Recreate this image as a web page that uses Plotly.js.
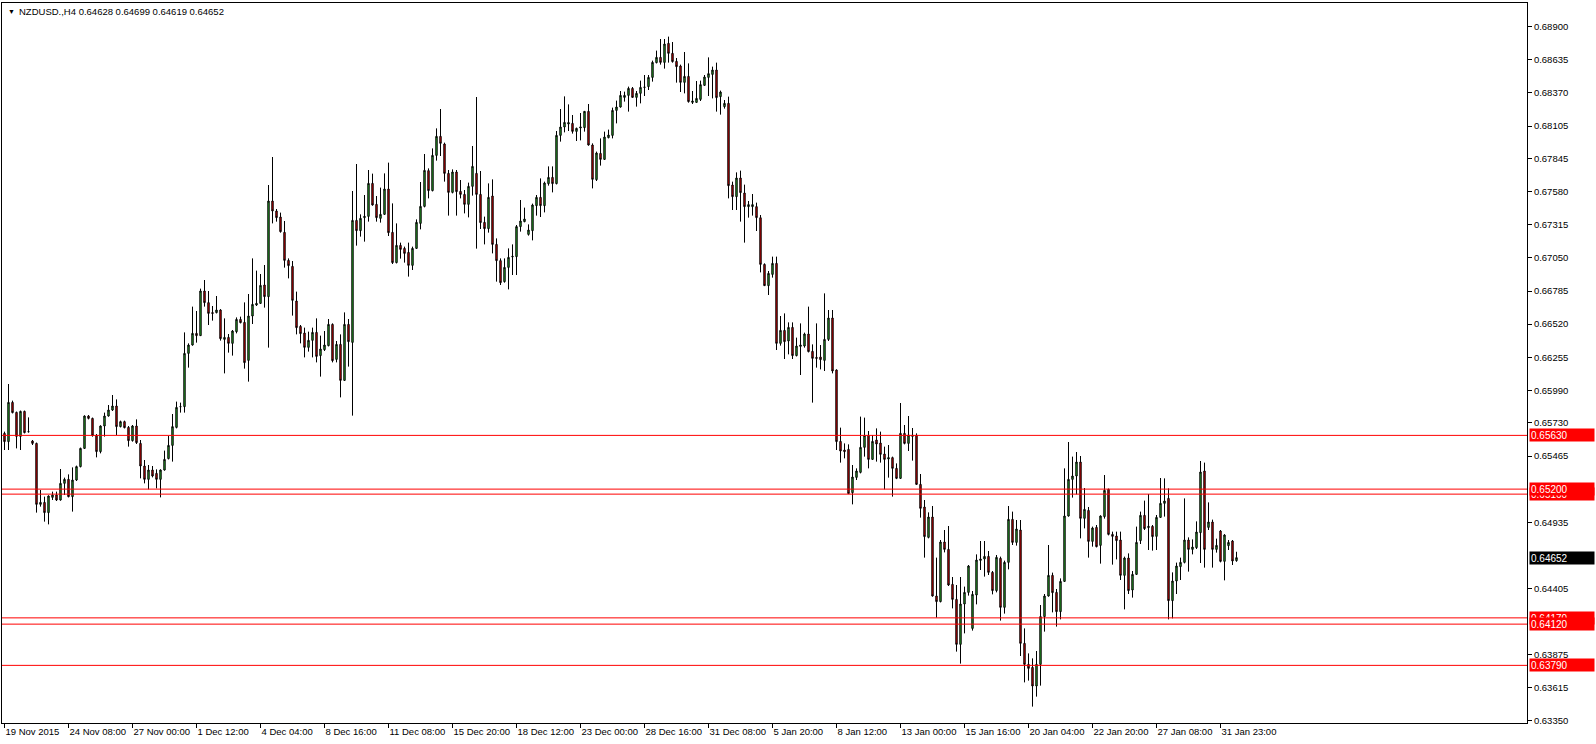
<!DOCTYPE html>
<html>
<head>
<meta charset="utf-8">
<script src="https://cdn.plot.ly/plotly-3.0.1.min.js"></script>
<style>
html,body{margin:0;padding:0;background:#fff;}
#chart{width:1596px;height:744px;}
</style>
</head>
<body>
<div id="chart"></div>
<script>
// ---- data (NZDUSD, H4) ----
const symbolTitle = "NZDUSD.,H4 0.64628 0.64699 0.64619 0.64652";

const openP = [
0.65646,0.65580,0.65894,0.65814,0.65622,0.65822,0.65660,0.65585,0.65566,0.65078,
0.65094,0.65012,0.65134,0.65153,0.65113,0.65246,0.65278,0.65140,0.65273,0.65380,
0.65526,0.65785,0.65766,0.65628,0.65500,0.65705,0.65785,0.65833,0.65865,0.65700,
0.65740,0.65694,0.65588,0.65705,
0.65566,0.65385,0.65278,0.65353,0.65326,0.65278,0.65353,0.65444,0.65550,0.65694,
0.65860,0.65860,0.66286,0.66353,0.66446,0.66428,0.66785,0.66692,0.66612,0.66612,
0.66633,0.66398,0.66414,0.66366,0.66460,0.66558,0.66534,0.66230,0.66585,0.66673,
0.66686,
0.66833,0.66740,0.67505,0.67425,0.67377,0.67254,0.67030,0.66982,0.66705,0.66502,
0.66449,0.66334,0.66390,0.66454,0.66268,0.66316,0.66348,0.66518,0.66238,0.66358,
0.66070,0.66518,0.66374,0.67350,0.67268,0.67372,0.67382,0.67646,0.67478,0.67366,
0.67398,
0.67601,0.67254,0.67012,0.67150,0.67126,0.67094,0.66990,0.67126,0.67326,0.67462,
0.67748,0.67588,0.67870,0.68022,0.67961,0.67726,0.67574,0.67737,0.67582,0.67558,
0.67478,0.67622,0.67726,0.67558,0.67334,0.67284,0.67545,0.67158,0.67028,0.66860,
0.66974,
0.67058,0.67060,0.67300,0.67340,0.67238,0.67268,0.67468,0.67534,0.67468,0.67644,
0.67694,0.67644,0.68030,0.68097,0.68121,0.68126,0.68062,0.68089,0.68092,0.68222,
0.67953,0.67676,0.67886,0.67838,0.68012,0.68030,0.68230,0.68257,0.68334,0.68350,
0.68406,
0.68334,0.68366,0.68414,0.68420,0.68494,0.68612,0.68654,0.68614,0.68766,0.68686,
0.68622,0.68585,0.68454,0.68502,0.68294,0.68294,0.68318,0.68430,0.68494,0.68518,
0.68553,0.68340,0.68260,0.68286,0.67633,0.67540,0.67689,0.67569,0.67460,0.67460,
0.67460,
0.67371,0.66998,0.66828,0.66918,0.67006,0.66366,0.66470,0.66385,0.66494,0.66268,
0.66342,0.66345,0.66441,0.66302,0.66254,0.66257,0.66230,0.66398,0.66569,0.66153,
0.65582,0.65513,0.65518,0.65172,0.65294,0.65334,0.65534,0.65630,0.65438,0.65593,
0.65569,
0.65481,0.65441,0.65452,0.65366,0.65286,0.65646,0.65566,0.65622,0.65630,0.65238,
0.65057,0.64814,0.64977,0.64345,0.64300,0.64777,0.64718,0.64438,0.64318,0.63958,
0.64281,0.64374,0.64086,0.64353,0.64630,0.64641,0.64662,0.64534,0.64388,0.64646,
0.64254,
0.64614,0.64958,0.64774,0.64873,0.63966,0.63798,0.63774,0.63625,0.63798,0.64180,
0.64345,0.64510,0.64374,0.64220,0.64462,0.64985,0.65278,0.65305,0.65417,0.64966,
0.65030,0.64782,0.64894,0.64750,0.64980,0.65198,0.64838,0.64825,0.64793,0.64510,
0.64649,
0.64393,0.64518,0.64788,0.64990,0.64892,0.64902,0.64822,0.64974,0.65086,0.65126,
0.64308,0.64465,0.64580,0.64614,0.64793,0.64718,0.64732,0.64852,0.65345,0.64894,
0.64937,0.64718,0.64865,0.64622,0.64748,0.64785,0.64628
];

const highP = [
0.65660,0.66041,0.65908,0.65820,0.65828,0.65828,0.65774,0.65593,0.65572,0.65193,
0.65140,0.65150,0.65180,0.65180,0.65361,0.65292,0.65318,0.65374,0.65388,0.65532,
0.65790,0.65793,0.65772,0.65641,0.65710,0.65812,0.65873,0.65953,0.65918,0.65748,
0.65748,0.65705,0.65713,0.65758,
0.65593,0.65433,0.65393,0.65385,0.65358,0.65358,0.65508,0.65625,0.65801,0.65900,
0.65892,0.66454,0.66366,0.66660,0.66625,0.66804,0.66873,0.66785,0.66665,0.66745,
0.66640,0.66566,0.66441,0.66473,0.66574,0.66580,0.66694,0.66761,0.67046,0.66948,
0.66921,
0.66993,0.67633,0.67857,0.67441,0.67412,0.67345,0.67046,0.67025,0.66780,0.66513,
0.66492,0.66460,0.66492,0.66566,0.66428,0.66465,0.66561,0.66526,0.66385,0.66438,
0.66614,0.66561,0.67585,0.67801,0.67398,0.67553,0.67753,0.67724,0.67545,0.67612,
0.67726,
0.67812,0.67486,0.67326,0.67172,0.67140,0.67172,0.67140,0.67358,0.67657,0.67881,
0.67766,0.67926,0.68086,0.68241,0.67972,0.67753,0.67758,0.67753,0.67673,0.67593,
0.67652,0.67945,0.68337,0.67745,0.67380,0.67646,0.67678,0.67206,0.67046,0.67046,
0.67126,
0.67158,0.67313,0.67513,0.67452,0.67318,0.67484,0.67553,0.67686,0.67660,0.67782,
0.67782,0.68065,0.68241,0.68342,0.68278,0.68193,0.68092,0.68209,0.68225,0.68281,
0.67966,0.67900,0.68006,0.68060,0.68076,0.68252,0.68308,0.68385,0.68380,0.68420,
0.68417,
0.68385,0.68468,0.68513,0.68513,0.68628,0.68708,0.68801,0.68801,0.68820,0.68777,
0.68649,0.68596,0.68697,0.68606,0.68385,0.68465,0.68468,0.68513,0.68654,0.68580,
0.68612,0.68388,0.68313,0.68340,0.67660,0.67734,0.67748,0.67636,0.67505,0.67561,
0.67492,
0.67393,0.67006,0.66945,0.67060,0.67060,0.66585,0.66606,0.66534,0.66534,0.66412,
0.66526,0.66452,0.66660,0.66358,0.66526,0.66353,0.66766,0.66633,0.66633,0.66158,
0.65692,0.65566,0.65558,0.65393,0.65366,0.65780,0.65772,0.65665,0.65633,0.65686,
0.65660,
0.65540,0.65553,0.65460,0.65406,0.65889,0.65713,0.65785,0.65689,0.65646,0.65321,
0.65113,0.65014,0.65065,0.64652,0.64793,0.64873,0.64905,0.64497,0.64433,0.64497,
0.64420,0.64593,0.64385,0.64678,0.64785,0.64785,0.64705,0.64545,0.64673,0.64660,
0.64628,
0.65065,0.65020,0.64953,0.64953,0.64086,0.63886,0.63846,0.63905,0.64273,0.64361,
0.64753,0.64532,0.64401,0.64486,0.65366,0.65577,0.65460,0.65497,0.65465,0.65209,
0.65057,0.64900,0.64913,0.64990,0.65313,0.65204,0.64860,0.64860,0.64860,0.64660,
0.64686,
0.64545,0.64900,0.65020,0.65108,0.65161,0.64913,0.64993,0.65289,0.65286,0.65206,
0.64534,0.64612,0.64652,0.65126,0.64814,0.64798,0.64942,0.65425,0.65412,0.65094,
0.64956,0.64804,0.64873,0.64840,0.64793,0.64793,0.64699
];

const lowP = [
0.65513,0.65513,0.65806,0.65526,0.65513,0.65646,0.65652,0.65553,0.65012,0.65060,
0.64940,0.64918,0.65113,0.65105,0.65108,0.65153,0.65134,0.65020,0.65265,0.65374,
0.65521,0.65758,0.65620,0.65454,0.65486,0.65620,0.65780,0.65825,0.65633,0.65694,
0.65686,0.65540,0.65580,0.65561,
0.65286,0.65246,0.65198,0.65294,0.65206,0.65134,0.65348,0.65438,0.65420,0.65686,
0.65812,0.65812,0.66172,0.66348,0.66372,0.66425,0.66660,0.66513,0.66548,0.66606,
0.66388,0.66126,0.66292,0.66268,0.66446,0.66526,0.66164,0.66060,0.66521,0.66665,
0.66681,
0.66652,0.66332,0.67326,0.67340,0.67252,0.66972,0.66886,0.66588,0.66438,0.66366,
0.66254,0.66300,0.66254,0.66214,0.66100,0.66305,0.66342,0.66214,0.66214,0.65934,
0.66065,0.66180,0.65788,0.67148,0.67220,0.67180,0.67340,0.67468,0.67340,0.67332,
0.67393,
0.67225,0.67001,0.67006,0.67044,0.67012,0.66900,0.66953,0.67121,0.67278,0.67454,
0.67526,0.67582,0.67828,0.67865,0.67660,0.67388,0.67566,0.67388,0.67526,0.67406,
0.67374,0.67548,0.67124,0.67281,0.67158,0.67252,0.67086,0.66860,0.66833,0.66852,
0.66798,
0.66913,0.66913,0.67260,0.67335,0.67228,0.67190,0.67388,0.67377,0.67414,0.67628,
0.67574,0.67638,0.67980,0.68054,0.68065,0.68044,0.67985,0.67990,0.68060,0.67948,
0.67606,0.67665,0.67788,0.67833,0.68006,0.68006,0.68126,0.68252,0.68300,0.68220,
0.68332,
0.68260,0.68286,0.68345,0.68393,0.68460,0.68606,0.68596,0.68564,0.68612,0.68612,
0.68452,0.68377,0.68366,0.68292,0.68281,0.68292,0.68305,0.68425,0.68345,0.68326,
0.68220,0.68196,0.68244,0.67526,0.67433,0.67433,0.67340,0.67172,0.67372,0.67388,
0.67265,
0.66934,0.66825,0.66753,0.66892,0.66313,0.66348,0.66241,0.66278,0.66241,0.66262,
0.66113,0.66332,0.66294,0.65892,0.66172,0.66158,0.66145,0.66385,0.66126,0.65513,
0.65412,0.65446,0.65161,0.65078,0.65273,0.65326,0.65460,0.65366,0.65433,0.65420,
0.65412,
0.65198,0.65292,0.65140,0.65280,0.65281,0.65558,0.65505,0.65428,0.65233,0.64972,
0.64652,0.64806,0.64340,0.64172,0.64294,0.64694,0.64425,0.64246,0.63900,0.63804,
0.64046,0.64348,0.64068,0.64278,0.64553,0.64500,0.64513,0.64358,0.64374,0.64148,
0.64204,
0.64558,0.64753,0.64748,0.63865,0.63654,0.63668,0.63460,0.63540,0.63628,0.64060,
0.64340,0.64214,0.64100,0.64158,0.64457,0.64980,0.65132,0.65158,0.64806,0.64886,
0.64652,0.64740,0.64734,0.64604,0.64964,0.64830,0.64596,0.64638,0.64473,0.64238,
0.64361,
0.64332,0.64513,0.64761,0.64873,0.64713,0.64708,0.64713,0.64969,0.64980,0.64158,
0.64166,0.64361,0.64473,0.64606,0.64540,0.64678,0.64721,0.64609,0.64572,0.64873,
0.64572,0.64692,0.64614,0.64470,0.64713,0.64593,0.64619
];

const closeP = [
0.65580,0.65894,0.65812,0.65622,0.65822,0.65652,0.65660,0.65566,0.65078,0.65094,
0.65012,0.65145,0.65153,0.65113,0.65246,0.65278,0.65140,0.65273,0.65380,0.65526,
0.65785,0.65766,0.65628,0.65500,0.65705,0.65785,0.65833,0.65865,0.65700,0.65740,
0.65692,0.65588,0.65705,0.65572,
0.65385,0.65278,0.65353,0.65305,0.65278,0.65353,0.65438,0.65550,0.65700,0.65854,
0.65860,0.66286,0.66353,0.66446,0.66428,0.66785,0.66692,0.66606,0.66606,0.66633,
0.66404,0.66414,0.66366,0.66465,0.66558,0.66532,0.66212,0.66585,0.66678,0.66686,
0.66830,
0.66740,0.67505,0.67425,0.67372,0.67260,0.67030,0.66988,0.66710,0.66492,0.66444,
0.66334,0.66390,0.66454,0.66262,0.66321,0.66353,0.66518,0.66228,0.66358,0.66070,
0.66518,0.66380,0.67350,0.67268,0.67366,0.67382,0.67646,0.67473,0.67372,0.67398,
0.67601,
0.67252,0.67012,0.67150,0.67118,0.67086,0.66990,0.67126,0.67334,0.67462,0.67750,
0.67588,0.67870,0.68022,0.67966,0.67726,0.67574,0.67737,0.67580,0.67558,0.67478,
0.67622,0.67782,0.67558,0.67332,0.67284,0.67534,0.67158,0.67028,0.66852,0.66974,
0.67054,
0.67062,0.67300,0.67345,0.67361,0.67273,0.67473,0.67534,0.67468,0.67649,0.67694,
0.67644,0.68030,0.68097,0.68134,0.68132,0.68062,0.68086,0.68097,0.68222,0.67953,
0.67678,0.67889,0.67838,0.68017,0.68033,0.68230,0.68257,0.68350,0.68350,0.68406,
0.68334,
0.68366,0.68414,0.68416,0.68494,0.68614,0.68654,0.68614,0.68761,0.68686,0.68620,
0.68580,0.68454,0.68502,0.68300,0.68305,0.68326,0.68436,0.68497,0.68524,0.68553,
0.68332,0.68377,0.68286,0.67628,0.67540,0.67689,0.67572,0.67460,0.67476,0.67476,
0.67372,
0.66998,0.66828,0.66926,0.67006,0.66366,0.66470,0.66380,0.66494,0.66268,0.66345,
0.66353,0.66441,0.66300,0.66246,0.66246,0.66236,0.66398,0.66569,0.66145,0.65580,
0.65505,0.65500,0.65164,0.65297,0.65345,0.65534,0.65630,0.65438,0.65582,0.65561,
0.65478,
0.65438,0.65452,0.65366,0.65286,0.65646,0.65566,0.65633,0.65630,0.65238,0.65046,
0.64820,0.64977,0.64345,0.64300,0.64777,0.64718,0.64433,0.64318,0.63958,0.64281,
0.64374,0.64585,0.64358,0.64633,0.64641,0.64662,0.64534,0.64388,0.64654,0.64254,
0.64614,
0.64958,0.64774,0.64881,0.63966,0.63798,0.63766,0.63625,0.63798,0.64180,0.64345,
0.64510,0.64372,0.64220,0.64462,0.64985,0.65278,0.65305,0.65417,0.64966,0.65038,
0.64782,0.64889,0.64740,0.64985,0.65190,0.64838,0.64822,0.64788,0.64510,0.64649,
0.64388,
0.64518,0.64774,0.64990,0.64884,0.64902,0.64820,0.64974,0.65086,0.65105,0.64308,
0.64465,0.64585,0.64614,0.64793,0.64718,0.64737,0.64857,0.65337,0.64718,0.64937,
0.64718,0.64750,0.64622,0.64833,0.64774,0.64625,0.64652
];

// time-axis labels (one every 16 bars)
const dateLabels = ["19 Nov 2015","24 Nov 08:00","27 Nov 00:00","1 Dec 12:00","4 Dec 04:00",
  "8 Dec 16:00","11 Dec 08:00","15 Dec 20:00","18 Dec 12:00","23 Dec 00:00","28 Dec 16:00",
  "31 Dec 08:00","5 Jan 20:00","8 Jan 12:00","13 Jan 00:00","15 Jan 16:00","20 Jan 04:00",
  "22 Jan 20:00","27 Jan 08:00","31 Jan 23:00"];
const barsPerLabel = 16;

// price scale labels
const priceTicks = [0.68900,0.68635,0.68370,0.68105,0.67845,0.67580,0.67315,0.67050,0.66785,
  0.66520,0.66255,0.65990,0.65730,0.65465,0.64935,0.64405,0.63875,0.63615,0.63350];

// horizontal support / resistance levels
const levels = [0.65630, 0.65160, 0.65200, 0.64170, 0.64120, 0.63790];
const lastPrice = 0.64652;

// ---- build ----
const n = openP.length;
const xIdx = [];
for (let i = 0; i < n; i++) xIdx.push(i);
const tickBars = dateLabels.map((_, k) => k * barsPerLabel);

const FONT = "Liberation Sans, Arial, sans-serif";

const trace = {
  type: "candlestick",
  x: xIdx, open: openP, high: highP, low: lowP, close: closeP,
  increasing: {line: {color: "#000000", width: 1}, fillcolor: "#32cd32"},
  decreasing: {line: {color: "#000000", width: 1}, fillcolor: "#ff0000"},
  whiskerwidth: 0,
  hoverinfo: "skip"
};

const shapes = levels.map(v => ({
  type: "line", xref: "paper", x0: 0, x1: 1, yref: "y", y0: v, y1: v,
  line: {color: "#ff0000", width: 1}, layer: "above"
}));

const annotations = [];
levels.forEach(v => {
  annotations.push({
    xref: "paper", x: 1, xanchor: "left", xshift: 2,
    yref: "y", y: v, yanchor: "middle",
    text: v.toFixed(5), showarrow: false,
    font: {family: FONT, size: 10, color: "#ffffff"},
    bgcolor: "#ff0000", width: 62, height: 10, align: "left", borderpad: 1
  });
});
annotations.push({
  xref: "paper", x: 1, xanchor: "left", xshift: 2,
  yref: "y", y: lastPrice, yanchor: "middle",
  text: lastPrice.toFixed(5), showarrow: false,
  font: {family: FONT, size: 10, color: "#ffffff"},
  bgcolor: "#000000", width: 62, height: 10, align: "left", borderpad: 1
});
annotations.push({
  xref: "paper", x: 0, xanchor: "left", xshift: 4,
  yref: "paper", y: 1, yanchor: "top", yshift: -3,
  text: "▼", showarrow: false, font: {family: FONT, size: 7, color: "#000000"}
});
annotations.push({
  xref: "paper", x: 0, xanchor: "left", xshift: 15,
  yref: "paper", y: 1, yanchor: "top", yshift: -1,
  text: symbolTitle, showarrow: false, font: {family: FONT, size: 9.5, color: "#000000"}
});

const layout = {
  width: 1596, height: 744,
  margin: {l: 2, r: 69, t: 3, b: 21, pad: 0},
  paper_bgcolor: "#ffffff", plot_bgcolor: "#ffffff",
  showlegend: false, hovermode: false, dragmode: false,
  boxgap: 0.5,
  xaxis: {
    type: "linear", range: [-0.625, 380.625], fixedrange: true,
    rangeslider: {visible: false},
    showgrid: false, zeroline: false,
    showline: true, mirror: true, linecolor: "#000000", linewidth: 1,
    tickmode: "array", tickvals: tickBars, ticktext: dateLabels,
    tickangle: 0, automargin: false,
    ticks: "outside", ticklen: 4, tickcolor: "#000000", tickwidth: 1,
    ticklabelposition: "outside right",
    tickfont: {family: FONT, size: 9.5, color: "#000000"}
  },
  yaxis: {
    side: "right", range: [0.63329, 0.69089], fixedrange: true,
    showgrid: false, zeroline: false, automargin: false,
    showline: true, mirror: true, linecolor: "#000000", linewidth: 1,
    tickmode: "array", tickvals: priceTicks, ticktext: priceTicks.map(v => v.toFixed(5)),
    ticks: "outside", ticklen: 4, tickcolor: "#000000", tickwidth: 1,
    tickfont: {family: FONT, size: 9.5, color: "#000000"}
  },
  shapes: shapes,
  annotations: annotations
};

Plotly.newPlot("chart", [trace], layout, {displayModeBar: false, staticPlot: true});
</script>
</body>
</html>
